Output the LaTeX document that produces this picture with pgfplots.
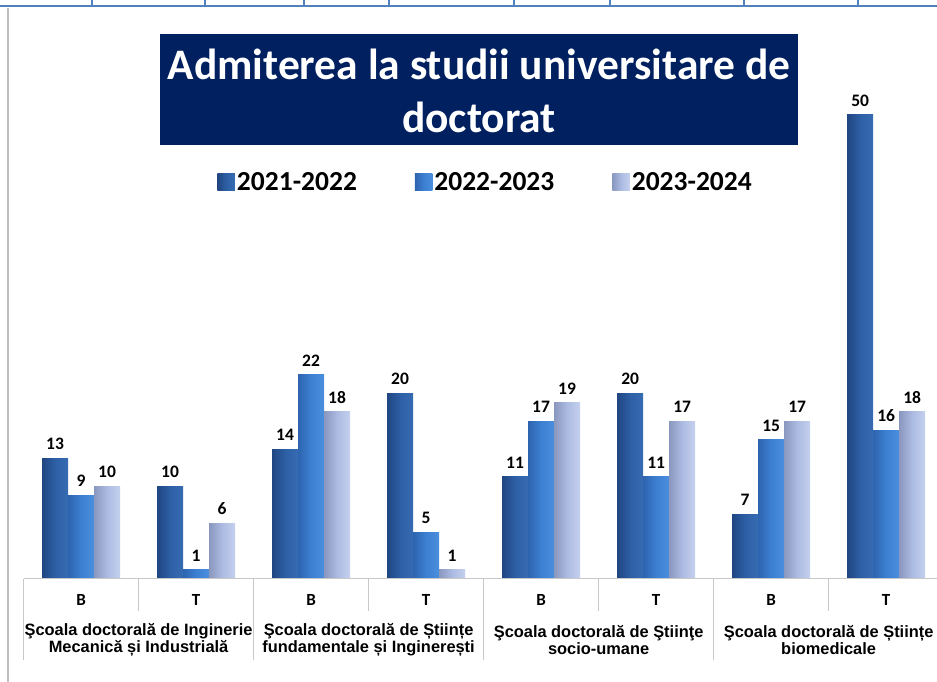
\documentclass[border=0pt]{standalone}
\usepackage{pgfplots}
\pgfplotsset{compat=1.18}
\usepackage{fontspec}
\setmainfont{Carlito}
\newfontfamily\arialf{Liberation Sans}
\definecolor{navy}{RGB}{0,32,96}
\definecolor{topblue}{RGB}{79,129,189}
\definecolor{sepgray}{RGB}{200,200,200}
\definecolor{aL}{RGB}{55,108,178}
\definecolor{aM}{RGB}{45,95,165}
\definecolor{aR}{RGB}{32,70,130}
\definecolor{bL}{RGB}{75,142,222}
\definecolor{bM}{RGB}{60,128,210}
\definecolor{bR}{RGB}{46,100,175}
\definecolor{cL}{RGB}{196,208,238}
\definecolor{cM}{RGB}{172,187,226}
\definecolor{cR}{RGB}{138,151,190}
\pgfplotsset{
  sA/.style={ybar, bar width=26pt, bar shift=-26pt, draw=none, left color=aR, right color=aL, middle color=aM,
    every node near coord/.append style={xshift=-26pt}},
  sB/.style={ybar, bar width=26pt, bar shift=0pt, draw=none, left color=bR, right color=bL, middle color=bM},
  sC/.style={ybar, bar width=26pt, bar shift=26pt, draw=none, left color=cR, right color=cL, middle color=cM,
    every node near coord/.append style={xshift=26pt}},
}
\newcommand{\barA}[2]{\addplot[sA, forget plot] coordinates {(#1,#2)};}
\newcommand{\barB}[2]{\addplot[sB, forget plot] coordinates {(#1,#2)};}
\newcommand{\barC}[2]{\addplot[sC, forget plot] coordinates {(#1,#2)};}
\begin{document}
\begin{tikzpicture}[x=1pt,y=1pt]
\useasboundingbox (0,0) rectangle (937,682);
\fill[white] (0,0) rectangle (937,682);
% page decorations
\draw[line width=2.5pt, topblue] (0,676) -- (937,676);
\foreach \xx in {92,205,304,389,514,610,744,858} \draw[line width=2pt, topblue] (\xx,682) -- (\xx,676);
\draw[gray!50, line width=1.2pt] (8,0) -- (8,674);
% title
\fill[navy] (160,537) rectangle (798,648);
\node[text=white, font=\fontsize{43.5}{53}\selectfont\bfseries, align=center] at (479,591) {Admiterea la studii universitare de\\doctorat};
\begin{axis}[
  at={(20.5,111)}, anchor=south west,
  scale only axis, width=913.5pt, height=464pt,
  xmin=-0.5, xmax=7.443, ymin=0, ymax=50,
  clip=false,
  /pgf/number format/assume math mode=true,
  axis line style={draw=none},
  ytick=\empty,
  xtick={0,...,7},
  xticklabels={B,T,B,T,B,T,B,T},
  major tick length=0pt,
  xticklabel style={anchor=center, yshift=-21pt, font=\fontsize{17}{17}\selectfont\bfseries},
  nodes near coords,
  every node near coord/.append style={font=\fontsize{17.5}{17.5}\selectfont\bfseries, text=black, yshift=5pt},
  legend style={at={(0.5058,0.8556)}, anchor=center, draw=none, fill=none,
    legend columns=-1, font=\fontsize{27.5}{27.5}\selectfont\bfseries,
    /tikz/every even column/.append style={column sep=56pt}},
  legend image code/.code={\path[#1, draw=none] (0pt,-8.5pt) rectangle (17.5pt,8.5pt);},
]
% one plot per bar so that each bar carries its own shading
\addplot[sA] coordinates {(0,13)};
\addplot[sB] coordinates {(0,9)};
\addplot[sC] coordinates {(0,10)};
\legend{2021-2022,2022-2023,2023-2024}
\barA{1}{10} \barA{2}{14} \barA{3}{20} \barA{4}{11} \barA{5}{20} \barA{6}{7} \barA{7}{50}
\barB{1}{1} \barB{2}{22} \barB{3}{5} \barB{4}{17} \barB{5}{11} \barB{6}{15} \barB{7}{16}
\barC{1}{6} \barC{2}{18} \barC{3}{1} \barC{4}{19} \barC{5}{17} \barC{6}{17} \barC{7}{18}
% separators
\draw[sepgray, line width=1pt] (axis cs:-0.5,0) -- (axis cs:7.443,0);
\draw[sepgray, line width=1pt] (axis cs:-0.5,0) -- ([yshift=-81pt]axis cs:-0.5,0);
\draw[sepgray, line width=1pt] (axis cs:1.5,0) -- ([yshift=-81pt]axis cs:1.5,0);
\draw[sepgray, line width=1pt] (axis cs:3.5,0) -- ([yshift=-81pt]axis cs:3.5,0);
\draw[sepgray, line width=1pt] (axis cs:5.5,0) -- ([yshift=-81pt]axis cs:5.5,0);
\draw[sepgray, line width=1pt] (axis cs:0.5,0) -- ([yshift=-32pt]axis cs:0.5,0);
\draw[sepgray, line width=1pt] (axis cs:2.5,0) -- ([yshift=-32pt]axis cs:2.5,0);
\draw[sepgray, line width=1pt] (axis cs:4.5,0) -- ([yshift=-32pt]axis cs:4.5,0);
\draw[sepgray, line width=1pt] (axis cs:6.5,0) -- ([yshift=-32pt]axis cs:6.5,0);
% group labels
\node[align=center, font=\arialf\bfseries\fontsize{16.4}{17.5}\selectfont, inner sep=0pt] at ([yshift=-61pt]axis cs:0.5,0) {Şcoala doctorală de Inginerie\\Mecanică și Industrială};
\node[align=center, font=\arialf\bfseries\fontsize{16.4}{17.5}\selectfont, inner sep=0pt] at ([yshift=-61pt]axis cs:2.5,0) {Şcoala doctorală de Științe\\fundamentale și Inginerești};
\node[align=center, font=\arialf\bfseries\fontsize{16.4}{17.5}\selectfont, inner sep=0pt] at ([yshift=-61pt]axis cs:4.5,0) {Şcoala doctorală de Ştiinţe\\socio-umane};
\node[align=center, font=\arialf\bfseries\fontsize{16.4}{17.5}\selectfont, inner sep=0pt] at ([yshift=-61pt]axis cs:6.5,0) {Şcoala doctorală de Științe\\biomedicale};
\end{axis}
\end{tikzpicture}
\end{document}
